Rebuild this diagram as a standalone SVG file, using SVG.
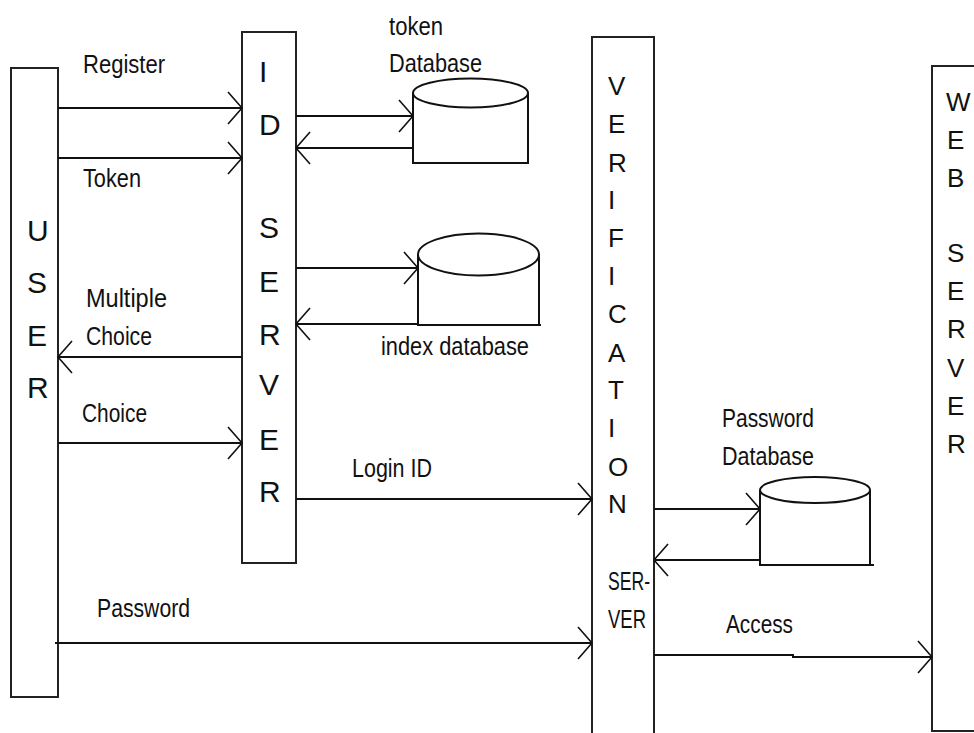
<svg xmlns="http://www.w3.org/2000/svg" width="974" height="733" viewBox="0 0 974 733">
<style>
.box{fill:#fff;stroke:#222;stroke-width:2}
.db{fill:none;stroke:#111;stroke-width:2}
.conn{fill:none;stroke:#111;stroke-width:2;marker-end:url(#ah)}
.lbl{font-family:"Liberation Sans",Arial,sans-serif;font-size:25px;fill:#111}
.big{font-family:"Liberation Sans",Arial,sans-serif;font-size:30px;fill:#111}
.mid{font-family:"Liberation Sans",Arial,sans-serif;font-size:26px;fill:#111}
</style>
<defs>
<marker id="ah" markerUnits="userSpaceOnUse" markerWidth="40" markerHeight="40" viewBox="-20 -20 40 40" refX="0" refY="0" orient="auto">
<path d="M-14,-16 L0,0 L-14,16" fill="none" stroke="#111" stroke-width="1.6"/>
</marker>
</defs>
<rect width="974" height="733" fill="#fff"/>

<g id="user">
<rect class="box" x="11" y="68" width="47" height="629"/>
<text class="big" x="27" y="241">U</text>
<text class="big" x="27" y="293">S</text>
<text class="big" x="27" y="346">E</text>
<text class="big" x="27" y="398">R</text>
</g>

<g id="id-server">
<rect class="box" x="242" y="32" width="54" height="531"/>
<text class="big" x="259" y="82">I</text>
<text class="big" x="259" y="135">D</text>
<text class="big" x="259" y="238">S</text>
<text class="big" x="259" y="292">E</text>
<text class="big" x="259" y="345">R</text>
<text class="big" x="259" y="395">V</text>
<text class="big" x="259" y="450">E</text>
<text class="big" x="259" y="502">R</text>
</g>

<g id="verification-server">
<path class="box" d="M592,735 V37 H654 V735"/>
<text class="mid" x="608" y="95">V</text>
<text class="mid" x="608" y="133">E</text>
<text class="mid" x="608" y="172">R</text>
<text class="mid" x="608" y="209">I</text>
<text class="mid" x="608" y="247">F</text>
<text class="mid" x="608" y="285">I</text>
<text class="mid" x="608" y="323">C</text>
<text class="mid" x="608" y="362">A</text>
<text class="mid" x="608" y="399">T</text>
<text class="mid" x="608" y="437">I</text>
<text class="mid" x="608" y="476">O</text>
<text class="mid" x="608" y="513">N</text>
<text class="lbl" x="608" y="590" textLength="42" lengthAdjust="spacingAndGlyphs">SER-</text>
<text class="lbl" x="608" y="628" textLength="38" lengthAdjust="spacingAndGlyphs">VER</text>
</g>

<g id="web-server">
<rect class="box" x="932" y="66" width="60" height="665"/>
<text class="mid" x="946" y="111">W</text>
<text class="mid" x="947" y="149">E</text>
<text class="mid" x="947" y="187">B</text>
<text class="mid" x="947" y="262">S</text>
<text class="mid" x="947" y="300">E</text>
<text class="mid" x="947" y="338">R</text>
<text class="mid" x="947" y="377">V</text>
<text class="mid" x="947" y="415">E</text>
<text class="mid" x="947" y="453">R</text>
</g>

<g id="token-database">
<ellipse class="db" cx="470.5" cy="93" rx="57.5" ry="14.5"/>
<path class="db" d="M413,93 V163 H528 V93"/>
<text class="lbl" x="389" y="35" textLength="54" lengthAdjust="spacingAndGlyphs">token</text>
<text class="lbl" x="389" y="72" textLength="93" lengthAdjust="spacingAndGlyphs">Database</text>
</g>

<g id="index-database">
<ellipse class="db" cx="478.5" cy="254.5" rx="60.5" ry="21"/>
<path class="db" d="M418,254.5 V325 H541 M539,325 V254.5"/>
<text class="lbl" x="381" y="355" textLength="148" lengthAdjust="spacingAndGlyphs">index database</text>
</g>

<g id="password-database">
<ellipse class="db" cx="815" cy="490" rx="55" ry="13"/>
<path class="db" d="M760,490 V565 H874 M870,565 V490"/>
<text class="lbl" x="722" y="427" textLength="92" lengthAdjust="spacingAndGlyphs">Password</text>
<text class="lbl" x="722" y="465" textLength="92" lengthAdjust="spacingAndGlyphs">Database</text>
</g>

<g id="connectors">
<path class="conn" d="M58,108 H242"/>
<path class="conn" d="M58,158 H242"/>
<path class="conn" d="M296,116 H413"/>
<path class="conn" d="M413,148 H296"/>
<path class="conn" d="M296,268 H418"/>
<path class="conn" d="M418,324 H296"/>
<path class="conn" d="M242,357 H58"/>
<path class="conn" d="M58,443 H242"/>
<path class="conn" d="M296,499 H592"/>
<path class="conn" d="M55,643 H592"/>
<path class="conn" d="M654,509 H760"/>
<path class="conn" d="M760,560 H654"/>
<path class="conn" d="M654,655 H793 V657 H932"/>
<text class="lbl" x="83" y="73" textLength="82" lengthAdjust="spacingAndGlyphs">Register</text>
<text class="lbl" x="83" y="187" textLength="58" lengthAdjust="spacingAndGlyphs">Token</text>
<text class="lbl" x="86" y="307" textLength="81" lengthAdjust="spacingAndGlyphs">Multiple</text>
<text class="lbl" x="86" y="345" textLength="66" lengthAdjust="spacingAndGlyphs">Choice</text>
<text class="lbl" x="82" y="422" textLength="65" lengthAdjust="spacingAndGlyphs">Choice</text>
<text class="lbl" x="352" y="477" textLength="80" lengthAdjust="spacingAndGlyphs">Login ID</text>
<text class="lbl" x="97" y="617" textLength="93" lengthAdjust="spacingAndGlyphs">Password</text>
<text class="lbl" x="726" y="633" textLength="67" lengthAdjust="spacingAndGlyphs">Access</text>
</g>
</svg>
